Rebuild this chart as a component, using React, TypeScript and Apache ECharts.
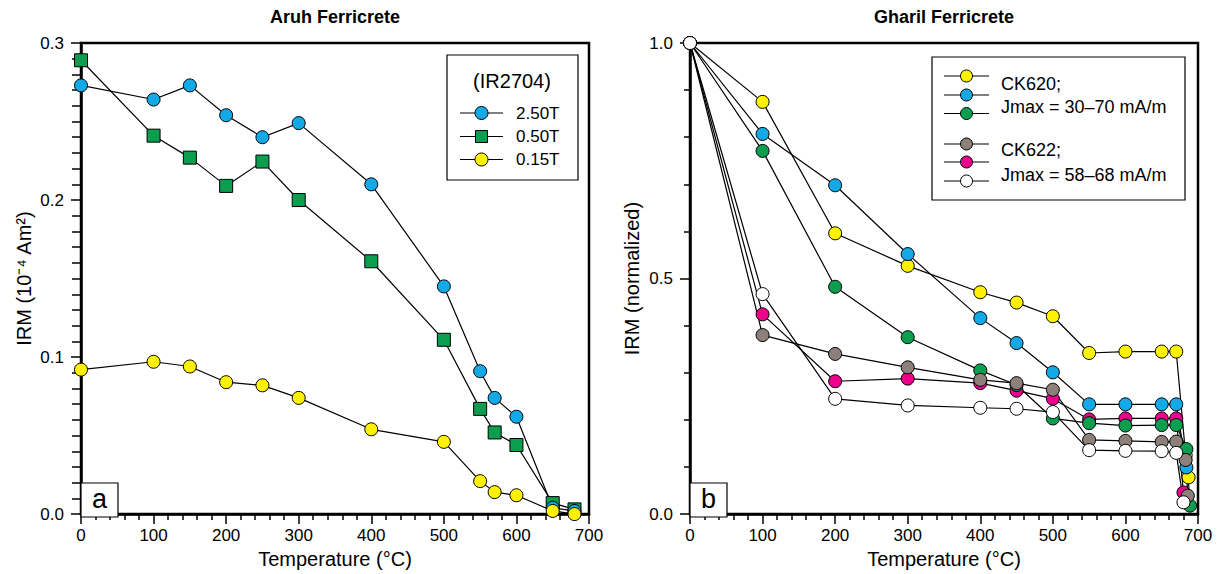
import React, { useEffect, useRef } from "react";
import * as echarts from "echarts";

// ---------- Data ----------
// Panel a: Aruh Ferricrete (IR2704)
const aruhTemps = [0, 100, 150, 200, 250, 300, 400, 500, 550, 570, 600, 650, 680];
const irm250T = [0.273, 0.264, 0.273, 0.254, 0.24, 0.249, 0.21, 0.145, 0.091, 0.074, 0.062, 0.004, 0.002];
const irm050T = [0.289, 0.241, 0.227, 0.209, 0.2245, 0.2, 0.161, 0.111, 0.067, 0.052, 0.044, 0.007, 0.003];
const irm015T = [0.092, 0.097, 0.094, 0.084, 0.082, 0.074, 0.054, 0.046, 0.021, 0.014, 0.012, 0.002, 0.0];

// Panel b: Gharil Ferricrete (normalized)
const gharilTemps = [0, 100, 200, 300, 400, 450, 500, 550, 600, 650, 670];
const ck620YellowTemps = [...gharilTemps, 683, 687];
const ck620Yellow = [1.0, 0.875, 0.596, 0.527, 0.471, 0.449, 0.42, 0.342, 0.345, 0.345, 0.345, 0.125, 0.078];
const ck620BlueTemps = [...gharilTemps, 684];
const ck620Blue = [1.0, 0.807, 0.698, 0.552, 0.416, 0.363, 0.301, 0.233, 0.233, 0.233, 0.233, 0.099];
const ck620GreenTemps = [...gharilTemps, 684, 689];
const ck620Green = [1.0, 0.771, 0.4825, 0.3755, 0.305, 0.274, 0.203, 0.193, 0.188, 0.189, 0.189, 0.138, 0.018];
const ck622GrayTemps = [...gharilTemps, 683, 686];
const ck622Gray = [1.0, 0.38, 0.34, 0.3115, 0.285, 0.278, 0.264, 0.1575, 0.1554, 0.1533, 0.154, 0.115, 0.039];
const ck622MagentaTemps = [...gharilTemps, 680];
const ck622Magenta = [1.0, 0.424, 0.282, 0.2876, 0.278, 0.262, 0.245, 0.201, 0.203, 0.203, 0.203, 0.046];
const ck622WhiteTemps = [...gharilTemps, 680];
const ck622White = [1.0, 0.467, 0.2447, 0.2306, 0.2257, 0.2236, 0.2166, 0.1357, 0.1343, 0.1336, 0.13, 0.025];

const xTicks = [0, 100, 200, 300, 400, 500, 600, 700];

// ---------- Styles ----------
const FONT = "'Liberation Sans', Arial, Helvetica, sans-serif";
const C_BLUE = "#12a9e6";
const C_GREEN = "#0c9e4f";
const C_YELLOW = "#fff200";
const C_MAGENTA = "#ec008c";
const C_GRAY = "#8d7f79";
const C_WHITE = "#ffffff";

const pairs = (t: number[], v: number[]) => t.map((x, i) => [x, v[i]]);

function xAxisFor(gridIndex: number) {
  return {
    gridIndex,
    type: "value",
    min: xTicks[0],
    max: xTicks[xTicks.length - 1],
    interval: 100,
    axisLine: { show: true, onZero: false, lineStyle: { color: "#000", width: 2.5 } },
    axisTick: { show: true, length: 10, lineStyle: { color: "#000", width: 1.5 } },
    minorTick: { show: true, splitNumber: 5, length: 6, lineStyle: { color: "#000", width: 1.5 } },
    splitLine: { show: false },
    minorSplitLine: { show: false },
    axisLabel: { color: "#000", fontSize: 17, margin: 13, fontFamily: FONT },
    name: "Temperature (°C)",
    nameLocation: "middle",
    nameGap: 34,
    nameTextStyle: { color: "#000", fontSize: 20, fontFamily: FONT },
  };
}

function series(
  name: string,
  xi: number,
  data: number[][],
  color: string,
  symbol = "circle",
  size = 13
) {
  return {
    name,
    type: "line",
    xAxisIndex: xi,
    yAxisIndex: xi,
    data,
    symbol,
    symbolSize: size,
    showSymbol: true,
    clip: false,
    lineStyle: { color: "#000", width: 1.2 },
    itemStyle: { color, borderColor: "#000", borderWidth: 1 },
    emphasis: { disabled: true },
  };
}

function legendItem(x1: number, x2: number, y: number, color: string, square = false, r = 6.5) {
  const cx = (x1 + x2) / 2;
  const items: any[] = [
    { type: "line", shape: { x1, y1: y, x2, y2: y }, style: { stroke: "#000", lineWidth: 1.2 } },
  ];
  if (square) {
    items.push({
      type: "rect",
      shape: { x: cx - 6, y: y - 6, width: 12, height: 12 },
      style: { fill: color, stroke: "#000", lineWidth: 1 },
    });
  } else {
    items.push({
      type: "circle",
      shape: { cx, cy: y, r },
      style: { fill: color, stroke: "#000", lineWidth: 1 },
    });
  }
  return items;
}

function txt(text: string, x: number, y: number, size: number, align = "left", bold = false) {
  return {
    type: "text",
    x,
    y,
    style: {
      text,
      fill: "#000",
      font: `${bold ? "bold " : ""}${size}px ${FONT}`,
      textAlign: align,
      textVerticalAlign: "middle",
    },
  };
}

export default function App() {
  const ref = useRef<HTMLDivElement>(null);

  useEffect(() => {
    if (!ref.current) return;
    const chart = echarts.init(ref.current, null, { renderer: "svg" });

    const graphic: any[] = [
      txt("Aruh Ferricrete", 335, 17, 18, "center", true),
      txt("Gharil Ferricrete", 944, 17, 18, "center", true),
      // legend a
      {
        type: "rect",
        shape: { x: 447, y: 55, width: 131, height: 125 },
        style: { fill: "#fff", stroke: "#000", lineWidth: 1.2 },
      },
      txt("(IR2704)", 512, 81, 20, "center"),
      ...legendItem(460, 503, 113, C_BLUE),
      txt("2.50T", 516, 113, 17),
      ...legendItem(460, 503, 136.5, C_GREEN, true),
      txt("0.50T", 516, 136.5, 17),
      ...legendItem(460, 503, 159.5, C_YELLOW),
      txt("0.15T", 516, 159.5, 17),
      // legend b
      {
        type: "rect",
        shape: { x: 932, y: 57, width: 253, height: 143 },
        style: { fill: "#fff", stroke: "#000", lineWidth: 1.2 },
      },
      ...legendItem(944, 989, 76, C_YELLOW, false, 6),
      ...legendItem(944, 989, 95, C_BLUE, false, 6),
      ...legendItem(944, 989, 113.5, C_GREEN, false, 6),
      ...legendItem(944, 989, 144, C_GRAY, false, 6),
      ...legendItem(944, 989, 162, C_MAGENTA, false, 6),
      ...legendItem(944, 989, 181, C_WHITE, false, 6),
      txt("CK620;", 1001, 84, 18),
      txt("Jmax = 30–70 mA/m", 1001, 107, 18),
      txt("CK622;", 1001, 150, 18),
      txt("Jmax = 58–68 mA/m", 1001, 175, 18),
      // panel letters
      {
        type: "rect",
        shape: { x: 81, y: 483, width: 37, height: 34 },
        style: { fill: "#fff", stroke: "#000", lineWidth: 1.2 },
      },
      txt("a", 99.5, 499, 27, "center"),
      {
        type: "rect",
        shape: { x: 690, y: 483, width: 37, height: 34 },
        style: { fill: "#fff", stroke: "#000", lineWidth: 1.2 },
      },
      txt("b", 708.5, 499, 27, "center"),
    ].map((g) => ({ ...g, z: 100 }));

    chart.setOption({
      animation: false,
      backgroundColor: "#fff",
      textStyle: { fontFamily: FONT, color: "#000" },
      grid: [
        { left: 81, top: 43, width: 508, height: 474, show: true, borderColor: "#000", borderWidth: 2.5, backgroundColor: "transparent" },
        { left: 690, top: 43, width: 508, height: 474, show: true, borderColor: "#000", borderWidth: 2.5, backgroundColor: "transparent" },
      ],
      xAxis: [xAxisFor(0), xAxisFor(1)],
      yAxis: [
        {
          gridIndex: 0,
          type: "value",
          min: 0,
          max: 0.3,
          interval: 0.1,
          axisLine: { show: true, onZero: false, lineStyle: { color: "#000", width: 2.5 } },
          axisTick: { show: true, length: 10, lineStyle: { color: "#000", width: 1.5 } },
          minorTick: { show: true, splitNumber: 10, length: 9, lineStyle: { color: "#000", width: 1.5 } },
          splitLine: { show: false },
          minorSplitLine: { show: false },
          axisLabel: { color: "#000", fontSize: 17, margin: 17, fontFamily: FONT, formatter: (v: number) => v.toFixed(1) },
          name: "IRM (10⁻⁴ Am²)",
          nameLocation: "middle",
          nameGap: 47,
          nameTextStyle: { color: "#000", fontSize: 20, fontFamily: FONT },
        },
        {
          gridIndex: 1,
          type: "value",
          min: 0,
          max: 1,
          interval: 0.5,
          axisLine: { show: true, onZero: false, lineStyle: { color: "#000", width: 2.5 } },
          axisTick: { show: true, length: 10, lineStyle: { color: "#000", width: 1.5 } },
          minorTick: { show: true, splitNumber: 5, length: 6, lineStyle: { color: "#000", width: 1.5 } },
          splitLine: { show: false },
          minorSplitLine: { show: false },
          axisLabel: { color: "#000", fontSize: 17, margin: 17, fontFamily: FONT, formatter: (v: number) => v.toFixed(1) },
          name: "IRM (normalized)",
          nameLocation: "middle",
          nameGap: 48,
          nameTextStyle: { color: "#000", fontSize: 20, fontFamily: FONT },
        },
      ],
      series: [
        series("0.50T", 0, pairs(aruhTemps, irm050T), C_GREEN, "rect", 13),
        series("2.50T", 0, pairs(aruhTemps, irm250T), C_BLUE),
        series("0.15T", 0, pairs(aruhTemps, irm015T), C_YELLOW),
        series("CK620 yellow", 1, pairs(ck620YellowTemps, ck620Yellow), C_YELLOW),
        series("CK620 blue", 1, pairs(ck620BlueTemps, ck620Blue), C_BLUE),
        series("CK622 magenta", 1, pairs(ck622MagentaTemps, ck622Magenta), C_MAGENTA),
        series("CK620 green", 1, pairs(ck620GreenTemps, ck620Green), C_GREEN),
        series("CK622 gray", 1, pairs(ck622GrayTemps, ck622Gray), C_GRAY),
        series("CK622 white", 1, pairs(ck622WhiteTemps, ck622White), C_WHITE),
      ],
      graphic,
    });

    return () => chart.dispose();
  }, []);

  return (
    <div
      ref={ref}
      style={{ position: "fixed", left: 0, top: 0, width: 1222, height: 574, background: "#fff" }}
    />
  );
}
